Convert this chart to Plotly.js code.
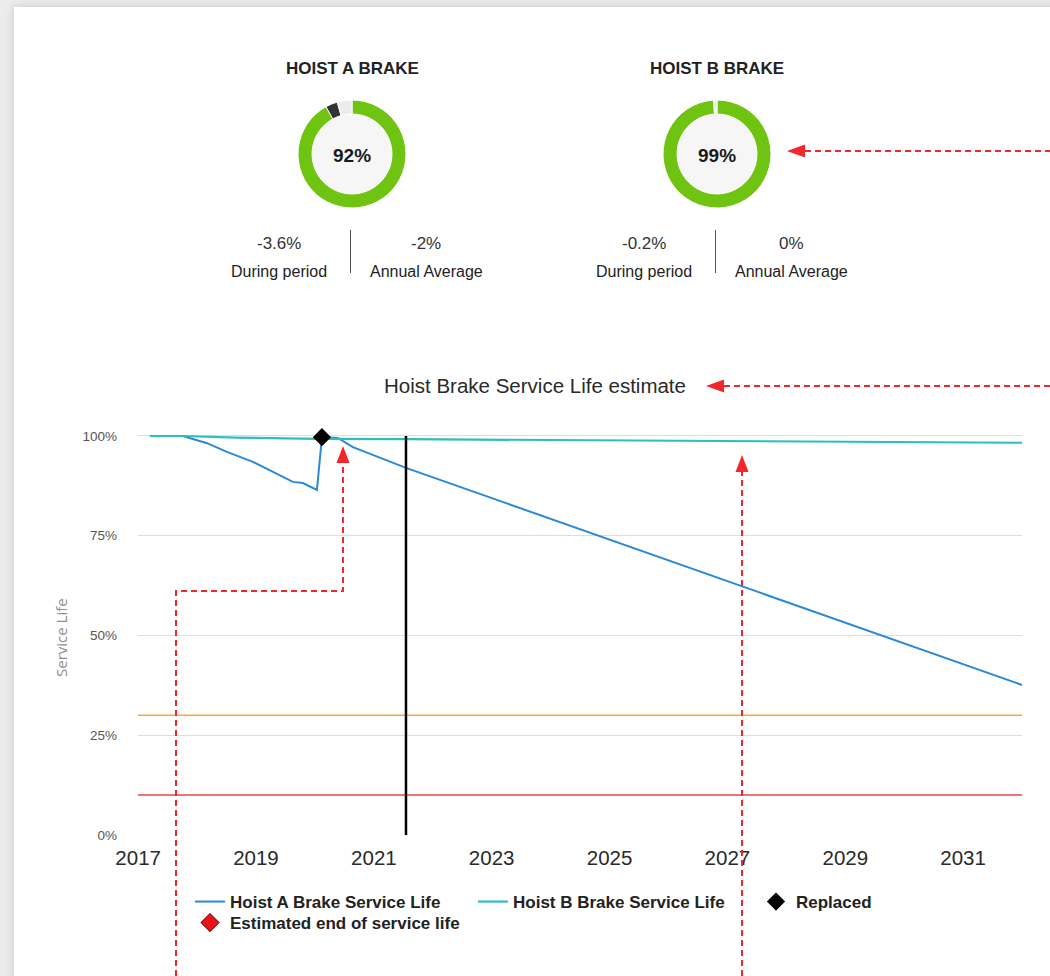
<!DOCTYPE html>
<html>
<head>
<meta charset="utf-8">
<script src="https://cdn.plot.ly/plotly-3.0.1.min.js"></script>
<style>
  html, body { margin: 0; padding: 0; width: 1050px; height: 976px; overflow: hidden; background: #ececec; }
  #card { position: absolute; left: 14px; top: 7px; right: -30px; bottom: -30px; background: #fff;
          box-shadow: 0 0 9px rgba(0, 0, 0, 0.16); }
  #chart { position: absolute; left: 0; top: 0; width: 1050px; height: 976px; }
</style>
</head>
<body>
<div id="card"></div>
<div id="chart"></div>
<script>
// ---- Brake wear summary ----
const brakeNames = ['HOIST A BRAKE', 'HOIST B BRAKE'];
const currentLife = [92, 99];          // % of service life remaining
const periodChange = [-3.6, -0.2];     // change during the reporting period
const annualAverage = [-2, 0];         // average change per year

// ---- Service life history and projection ----
const hoistADates = ['2017-03-15', '2017-10-06', '2018-03-04', '2018-07-05', '2018-12-13',
                     '2019-05-29', '2019-08-18', '2019-10-19', '2020-01-14', '2020-02-14',
                     '2020-05-23', '2020-08-24', '2021-07-19', '2032-01-01'];
const hoistALife  = [100, 100, 98.2, 96.0, 93.5, 90.2, 88.5, 88.2, 86.5, 99.7, 99.5, 97.2, 92.0, 37.6];

const hoistBDates = ['2017-03-15', '2017-10-06', '2018-09-01', '2020-01-14', '2021-07-19', '2032-01-01'];
const hoistBLife  = [100, 100, 99.6, 99.3, 99.2, 98.3];

const replacedDates = ['2020-02-14'];
const replacedLife  = [99.7];

const endOfLifeDates = ['2037-04-01'];
const endOfLifeLife  = [10];

const reportDate = '2021-07-19';
const warnLevel = 30;
const criticalLevel = 10;
const lifeTicks = [0, 25, 50, 75, 100];
const lifeTickText = lifeTicks.map(v => v + '%');
const yearRange = ['2016-12-31', '2032-01-01'];

// ---- Page geometry (pixels) ----
const W = 1050, H = 976, ML = 138, PLOT_RIGHT = 1022;
const px2x = p => (p - ML) / (W - ML);
const py2y = p => 1 - p / H;

const GREEN = '#6fc412', DARK = '#333333', LIGHT = '#ececec';
const BLUE = '#2b89d6', TEAL = '#2abfc3', RED = '#f3262b';

const donutCenters = [[352, 154], [717, 154]];
const donutR = 54;

const traces = [];
const shapes = [];
const annotations = [];

function label(text, px, py, font, extra) {
  annotations.push(Object.assign({
    text: text, x: px2x(px), y: py2y(py), xref: 'paper', yref: 'paper',
    xanchor: 'center', yanchor: 'middle', showarrow: false, font: font
  }, extra || {}));
}

brakeNames.forEach((name, i) => {
  const [cx, cy] = donutCenters[i];
  const lost = -periodChange[i];
  traces.push({
    type: 'pie',
    values: [currentLife[i], lost, 100 - currentLife[i] - lost],
    marker: { colors: [GREEN, DARK, LIGHT], line: { color: '#ffffff', width: 1 } },
    hole: 0.74, sort: false, direction: 'clockwise', rotation: 0,
    textinfo: 'none', hoverinfo: 'skip', showlegend: false,
    domain: { x: [px2x(cx - donutR), px2x(cx + donutR)], y: [py2y(cy + donutR), py2y(cy - donutR)] }
  });
  // hole background
  shapes.push({ type: 'circle', xref: 'paper', yref: 'paper', layer: 'below',
    x0: px2x(cx - 40), x1: px2x(cx + 40), y0: py2y(cy + 40), y1: py2y(cy - 40),
    fillcolor: '#f6f6f6', line: { width: 0 } });
  label(name, cx, 68, { size: 17, weight: 'bold', color: '#222' });
  label(currentLife[i] + '%', cx, cy + 1, { size: 19, weight: 'bold', color: '#1a1a1a' });
  // period / annual stats
  const left = cx - 73, right = cx + 74;
  label(periodChange[i] + '%', left, 243, { size: 17, color: '#333' });
  label('During period', left, 271, { size: 16, color: '#222' });
  label(annualAverage[i] + '%', right, 243, { size: 17, color: '#333' });
  label('Annual Average', right, 271, { size: 16, color: '#222' });
  shapes.push({ type: 'line', xref: 'paper', yref: 'paper',
    x0: px2x(cx - 1.5), x1: px2x(cx - 1.5), y0: py2y(230), y1: py2y(273),
    line: { color: '#555', width: 1 } });
});

traces.push({
  type: 'scatter', mode: 'lines', name: 'Hoist A Brake Service Life',
  x: hoistADates, y: hoistALife, line: { color: BLUE, width: 2 }, legend: 'legend'
});
traces.push({
  type: 'scatter', mode: 'lines', name: 'Hoist B Brake Service Life',
  x: hoistBDates, y: hoistBLife, line: { color: TEAL, width: 2.2 }, legend: 'legend'
});
traces.push({
  type: 'scatter', mode: 'markers', name: 'Replaced',
  x: replacedDates, y: replacedLife, cliponaxis: false,
  marker: { symbol: 'diamond', size: 14, color: '#000' }, legend: 'legend'
});
traces.push({
  type: 'scatter', mode: 'markers', name: 'Estimated end of service life',
  x: endOfLifeDates, y: endOfLifeLife,
  marker: { symbol: 'diamond', size: 14, color: '#e8141c', line: { color: '#5a0000', width: 1 } },
  legend: 'legend2'
});

// threshold levels and report date
const plotRight = px2x(PLOT_RIGHT);
shapes.push({ type: 'line', xref: 'paper', yref: 'y', x0: 0, x1: plotRight, y0: warnLevel, y1: warnLevel,
  line: { color: '#f7aa3a', width: 1.5 }, layer: 'below' });
shapes.push({ type: 'line', xref: 'paper', yref: 'y', x0: 0, x1: plotRight, y0: criticalLevel, y1: criticalLevel,
  line: { color: '#e8464c', width: 1.5 }, layer: 'below' });
shapes.push({ type: 'line', xref: 'x', yref: 'y', x0: reportDate, x1: reportDate, y0: 0, y1: 100,
  line: { color: '#000', width: 2.5 } });

// red dashed callouts
const dashed = { color: RED, width: 2, dash: '6px,4px' };
function callout(points) {
  const d = points.map((p, k) => (k ? 'L' : 'M') + px2x(p[0]) + ',' + py2y(p[1])).join(' ');
  shapes.push({ type: 'path', xref: 'paper', yref: 'paper', path: d, line: dashed });
}
function head(tip, dir) {
  const [tx, ty] = tip; let pts;
  if (dir === 'left') pts = [[tx, ty], [tx + 18, ty - 6.5], [tx + 18, ty + 6.5]];
  else pts = [[tx, ty], [tx - 6.5, ty + 17], [tx + 6.5, ty + 17]];
  const d = pts.map((p, k) => (k ? 'L' : 'M') + px2x(p[0]) + ',' + py2y(p[1])).join(' ') + ' Z';
  shapes.push({ type: 'path', xref: 'paper', yref: 'paper', path: d, fillcolor: RED, line: { width: 0 } });
}
callout([[805, 151], [1050, 151]]); head([787, 151], 'left');
callout([[724, 386], [1050, 386]]); head([706, 386], 'left');
callout([[176, 976], [176, 591], [343, 591], [343, 462]]); head([343, 446], 'up');
callout([[742, 976], [742, 471]]); head([742, 455], 'up');

label('Service Life', 61, 638, { family: 'Open Sans, sans-serif', size: 15, color: '#8e8e8e' }, { textangle: -90 });

const legendFont = { family: 'Liberation Sans, Arial, sans-serif', size: 17, weight: 'bold', color: '#222' };

const layout = {
  width: W, height: H,
  margin: { l: ML, r: 0, t: 0, b: 0 },
  paper_bgcolor: 'rgba(0,0,0,0)', plot_bgcolor: 'rgba(0,0,0,0)',
  font: { family: 'Liberation Sans, Arial, sans-serif', color: '#333' },
  title: { text: 'Hoist Brake Service Life estimate', xref: 'container', yref: 'container',
           x: 535 / W, xanchor: 'center', y: 1 - 386 / H, yanchor: 'middle',
           font: { size: 20.5, color: '#2a2a2a' } },
  xaxis: { type: 'date', range: yearRange, domain: [0, plotRight], tickformat: '%Y', dtick: 'M24', tick0: '2017-01-01',
           showgrid: false, zeroline: false, showline: false, ticks: '',
           tickfont: { size: 20.5, color: '#2a2a2a' }, ticklabelstandoff: 8, fixedrange: true },
  yaxis: { range: [0, 101], domain: [py2y(835), py2y(432)], tickmode: 'array',
           tickvals: lifeTicks, ticktext: lifeTickText,
           showgrid: true, gridcolor: '#dedede', gridwidth: 1, zeroline: false, showline: false, ticks: '',
           tickfont: { size: 13.5, color: '#555' }, ticklabelstandoff: 20, fixedrange: true },
  legend: { orientation: 'h', x: px2x(190), xanchor: 'left', y: py2y(884), yanchor: 'top',
            font: legendFont, entrywidth: 238, entrywidthmode: 'pixels', bgcolor: 'rgba(0,0,0,0)' },
  legend2: { orientation: 'h', x: px2x(190), xanchor: 'left', y: py2y(905), yanchor: 'top',
             font: legendFont, bgcolor: 'rgba(0,0,0,0)' },
  shapes: shapes,
  annotations: annotations
};

Plotly.newPlot('chart', traces, layout, { staticPlot: true, displayModeBar: false });
</script>
</body>
</html>
